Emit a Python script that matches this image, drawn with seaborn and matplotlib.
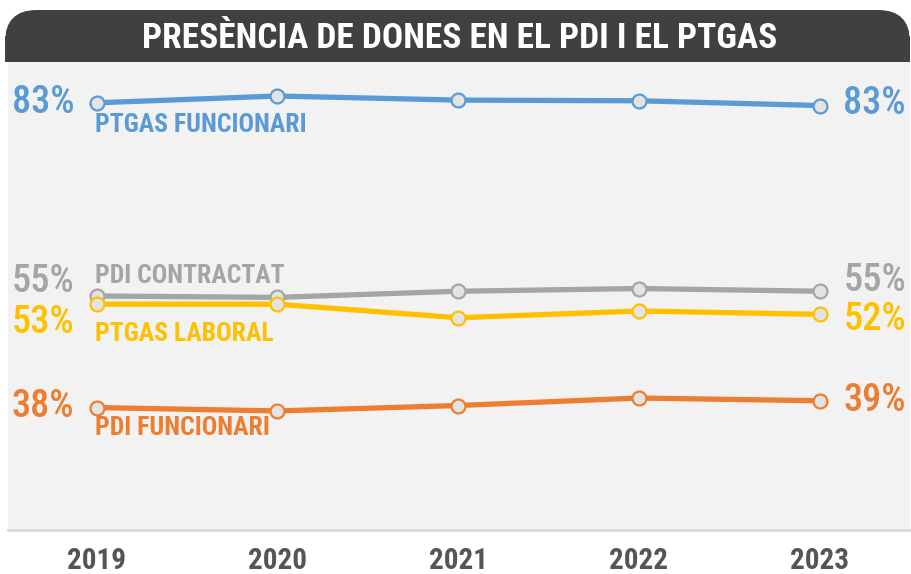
import matplotlib
matplotlib.use("Agg")
import matplotlib.pyplot as plt
from matplotlib import font_manager
from matplotlib.patches import FancyBboxPatch, Rectangle
import seaborn as sns
import pandas as pd

# Share of women (%) by staff group and year
years = [2019, 2020, 2021, 2022, 2023]
ptgas_funcionari = [83.0, 84.0, 83.4, 83.3, 82.6]
pdi_contractat = [54.6, 54.4, 55.3, 55.7, 55.3]
ptgas_laboral = [53.4, 53.4, 51.4, 52.4, 51.9]
pdi_funcionari = [38.2, 37.7, 38.5, 39.6, 39.2]

series_names = ["PTGAS FUNCIONARI", "PDI CONTRACTAT", "PTGAS LABORAL", "PDI FUNCIONARI"]
series_values = [ptgas_funcionari, pdi_contractat, ptgas_laboral, pdi_funcionari]
series_colors = ["#5b9bd5", "#a5a5a5", "#ffc000", "#ed7d31"]
title = "PRESÈNCIA DE DONES EN EL PDI I EL PTGAS"

# label offsets in pixels: (left value, right value, name label)
offsets = {
    "PTGAS FUNCIONARI": (0, 2, -22),
    "PDI CONTRACTAT": (15, 11, 20),
    "PTGAS LABORAL": (-18, -5, -30),
    "PDI FUNCIONARI": (1, 0, -20),
}

sns.set_theme(style="white")

available = {f.name for f in font_manager.fontManager.ttflist}
family = "DejaVu Sans"
for cand in ["Roboto Condensed", "Liberation Sans Narrow", "DejaVu Sans Condensed", "Open Sans Condensed"]:
    if cand in available:
        family = cand
        break
plt.rcParams["font.family"] = [family, "DejaVu Sans"]

W, H = 912, 574
fig = plt.figure(figsize=(W / 100, H / 100), dpi=100)
fig.patch.set_facecolor("white")

def px(x, y):
    return x / W, 1 - y / H

# title bar with rounded top corners
bar_col = "#404040"
fig.patches.append(FancyBboxPatch(px(5, 62), 905 / W, 52 / H,
                                  boxstyle="round,pad=0,rounding_size=0.035",
                                  mutation_aspect=W / H,
                                  transform=fig.transFigure, facecolor=bar_col,
                                  edgecolor="none"))
fig.patches.append(Rectangle(px(5, 62), 905 / W, 26 / H, transform=fig.transFigure,
                             facecolor=bar_col, edgecolor="none"))
fig.text(*px(460, 38), title, color="white", fontsize=25.5, fontweight="bold",
         ha="center", va="center", fontstretch="condensed")

ax = fig.add_axes([8 / W, (H - 530) / H, 902 / W, 468 / H])
ax.set_facecolor("#f2f2f2")

df = pd.DataFrame({
    "year": years * len(series_names),
    "value": [v for vals in series_values for v in vals],
    "series": [n for n in series_names for _ in years],
})

for name, col in zip(series_names, series_colors):
    sub = df[df["series"] == name]
    sns.lineplot(data=sub, x="year", y="value", ax=ax, color=col, linewidth=3.8,
                 marker="o", markersize=10, markerfacecolor="#e3e3e3",
                 markeredgecolor=col, markeredgewidth=1.6, legend=False)

ax.set_xlim(2018.51, 2023.50)
ax.set_ylim(20.2, 89.0)

for name, vals, col in zip(series_names, series_values, series_colors):
    dl, dr, dn = offsets[name]
    ax.annotate(f"{round(vals[0])}%", (years[0], vals[0]), xytext=(-16, dl * 0.72),
                textcoords="offset points", ha="right", va="center",
                fontsize=27.5, fontweight="medium", color=col)
    ax.annotate(f"{round(vals[-1])}%", (years[-1], vals[-1]), xytext=(17, dr * 0.72),
                textcoords="offset points", ha="left", va="center",
                fontsize=27.5, fontweight="medium", color=col)
    ax.annotate(name, (years[0], vals[0]), xytext=(-2 * 0.72, dn * 0.72),
                textcoords="offset points", ha="left", va="center",
                fontsize=18.5, color=col, fontweight="bold")

for s in ["top", "left", "right"]:
    ax.spines[s].set_visible(False)
ax.spines["bottom"].set_color("#d9d9d9")
ax.spines["bottom"].set_linewidth(2)
ax.set_yticks([])
ax.set_xticks(years)
ax.set_xticklabels([str(y) for y in years], fontsize=21, fontweight="bold", color="#555555")
ax.tick_params(axis="x", length=0, pad=12)
ax.set_xlabel("")
ax.set_ylabel("")

fig.savefig("out.png", dpi=100, facecolor="white")
